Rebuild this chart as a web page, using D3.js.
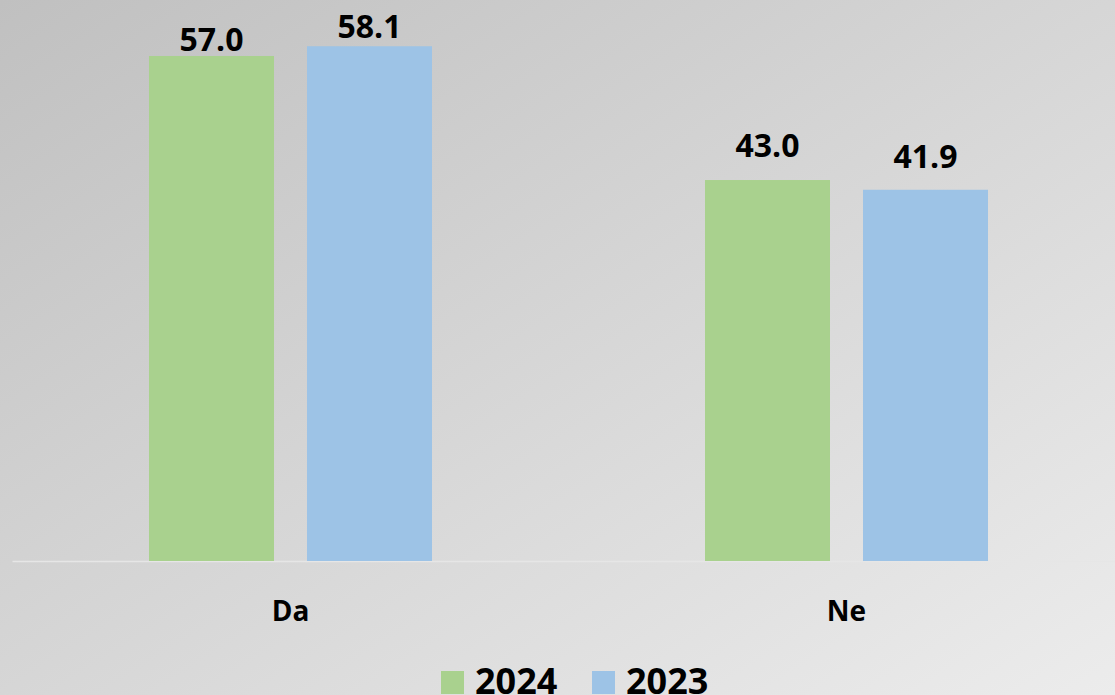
<!DOCTYPE html>
<html>
<head>
<meta charset="utf-8">
<script src="https://cdn.jsdelivr.net/npm/d3@7"></script>
<style>
  html, body { margin: 0; padding: 0; overflow: hidden; }
  svg { display: block; }
</style>
</head>
<body>
<svg id="chart" width="1115" height="695"></svg>
<script>
// ---- data ----
const categories = ["Da", "Ne"];
const seriesNames = ["2024", "2023"];
const values2024 = [57.0, 43.0];
const values2023 = [58.1, 41.9];

// ---- style / layout ----
const W = 1115, H = 695;
const colors = { "2024": "#a9d18e", "2023": "#9dc3e6" };
const FONT = "'Open Sans', 'DejaVu Sans', sans-serif";
// gap between bar top and label baseline, per category / series
const labelGap = { "Da": [5, 8], "Ne": [23, 22] };

const svg = d3.select("#chart");
const defs = svg.append("defs");
const grad = defs.append("linearGradient")
  .attr("id", "bg").attr("x1", "0%").attr("y1", "0%").attr("x2", "100%").attr("y2", "100%");
grad.append("stop").attr("offset", "0%").attr("stop-color", "#c0c0c0");
grad.append("stop").attr("offset", "50%").attr("stop-color", "#d6d6d6");
grad.append("stop").attr("offset", "100%").attr("stop-color", "#ececec");
svg.append("rect").attr("width", W).attr("height", H).attr("fill", "url(#bg)");

const table = categories.map((c, i) => ({
  cat: c,
  vals: [
    { s: "2024", v: values2024[i] },
    { s: "2023", v: values2023[i] }
  ]
}));

const x0 = d3.scaleBand().domain(categories).range([12.5, 1124.5]).paddingInner(0).paddingOuter(0);
const x1 = d3.scaleBand().domain(seriesNames).range([0, x0.bandwidth()])
  .paddingInner(33 / 158).paddingOuter(0.864);
const y = d3.scaleLinear().domain([0, 60]).range([561, 561 - 60 * 8.86]);

// axis line
svg.append("line")
  .attr("x1", x0.range()[0]).attr("x2", x0.range()[1])
  .attr("y1", y(0) + 0.5).attr("y2", y(0) + 0.5)
  .attr("stroke", "#e6e6e6").attr("stroke-width", 1.5);

const groups = svg.selectAll("g.cat").data(table).join("g")
  .attr("class", "cat")
  .attr("transform", d => `translate(${x0(d.cat)},0)`);

groups.selectAll("rect").data(d => d.vals).join("rect")
  .attr("x", d => x1(d.s))
  .attr("width", x1.bandwidth())
  .attr("y", d => y(d.v))
  .attr("height", d => y(0) - y(d.v))
  .attr("fill", d => colors[d.s]);

groups.each(function(d) {
  d3.select(this).selectAll("text.val").data(d.vals).join("text")
    .attr("class", "val")
    .attr("x", v => x1(v.s) + x1.bandwidth() / 2)
    .attr("y", (v, i) => y(v.v) - labelGap[d.cat][i])
    .attr("text-anchor", "middle")
    .attr("font-family", FONT).attr("font-weight", 700).attr("font-size", 32)
    .attr("fill", "#000")
    .text(v => v.v.toFixed(1));
});

// category labels
svg.selectAll("text.cat").data(categories).join("text")
  .attr("class", "cat")
  .attr("x", d => x0(d) + x0.bandwidth() / 2)
  .attr("y", 621)
  .attr("text-anchor", "middle")
  .attr("font-family", FONT).attr("font-weight", 700).attr("font-size", 28)
  .attr("fill", "#000")
  .text(d => d);

// legend
const legend = svg.append("g");
const legX = [441, 592];
seriesNames.forEach((s, i) => {
  legend.append("rect").attr("x", legX[i]).attr("y", 671).attr("width", 23).attr("height", 23)
    .attr("fill", colors[s]);
  legend.append("text").attr("x", legX[i] + 34).attr("y", 694)
    .attr("font-family", FONT).attr("font-weight", 700).attr("font-size", 36)
    .attr("fill", "#000").text(s);
});
</script>
</body>
</html>
